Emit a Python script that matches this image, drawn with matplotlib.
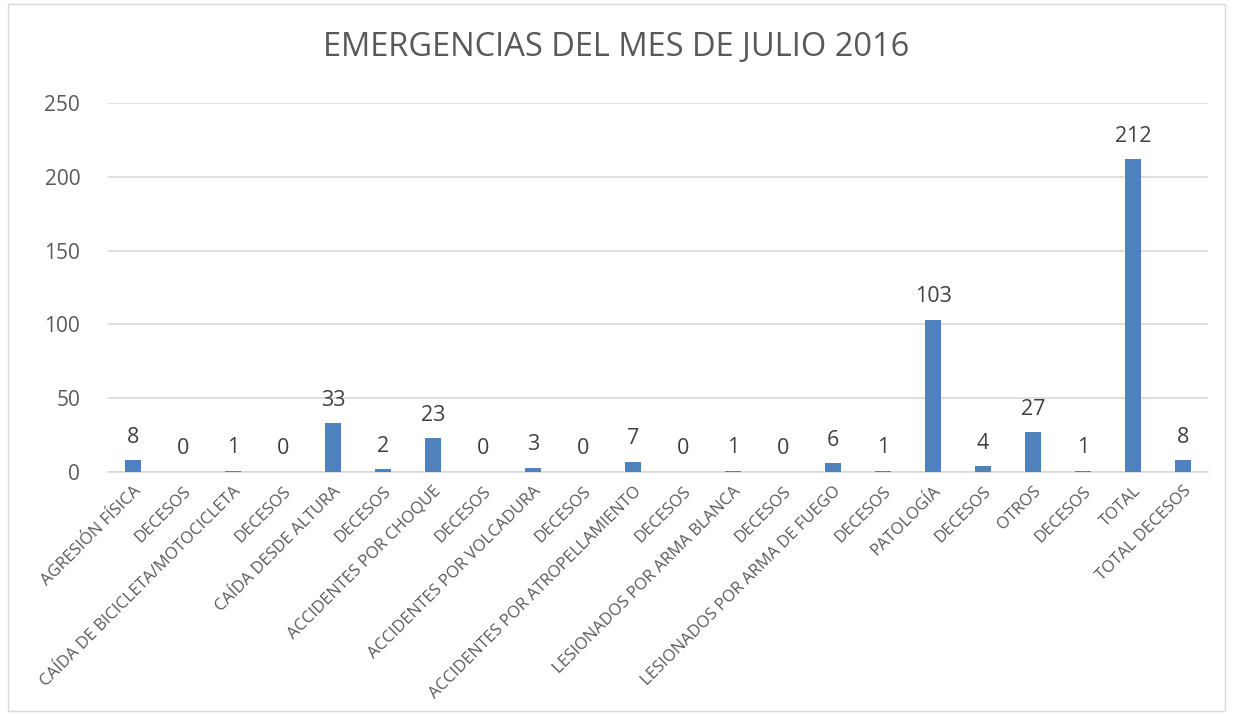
import matplotlib.pyplot as plt
from matplotlib.patches import Rectangle

categorias = [
    "AGRESIÓN FÍSICA", "DECESOS", "CAÍDA DE BICICLETA/MOTOCICLETA", "DECESOS",
    "CAÍDA DESDE ALTURA", "DECESOS", "ACCIDENTES POR CHOQUE", "DECESOS",
    "ACCIDENTES POR VOLCADURA", "DECESOS", "ACCIDENTES POR ATROPELLAMIENTO", "DECESOS",
    "LESIONADOS POR ARMA BLANCA", "DECESOS", "LESIONADOS POR ARMA DE FUEGO", "DECESOS",
    "PATOLOGÍA", "DECESOS", "OTROS", "DECESOS", "TOTAL", "TOTAL DECESOS",
]
valores = [8, 0, 1, 0, 33, 2, 23, 0, 3, 0, 7, 0, 1, 0, 6, 1, 103, 4, 27, 1, 212, 8]
ticks_y = [0, 50, 100, 150, 200, 250]


def main():
    plt.rcParams['font.family'] = ['Open Sans', 'DejaVu Sans']
    gris = '#595959'

    fig = plt.figure(figsize=(12.33, 7.15), dpi=100)
    ax = fig.add_axes([108 / 1233, 1 - 472 / 715, 1100 / 1233, 369 / 715])

    # Borde del área del gráfico
    fig.patches.append(Rectangle((8 / 1233, 0.005), 1 - 16 / 1233, 0.99,
                                 transform=fig.transFigure, fill=False,
                                 edgecolor='#d9d9d9', linewidth=1))

    x = list(range(len(categorias)))
    ax.bar(x, valores, width=0.32, color='#4F81BD', zorder=3)

    for xi, v in zip(x, valores):
        ax.annotate(str(v), (xi, v), xytext=(0, 9), textcoords='offset points',
                    ha='center', va='bottom', fontsize=15.5, color='#404040')

    ax.set_xlim(-0.5, len(categorias) - 0.5)
    ax.set_ylim(0, 250)
    ax.set_yticks(ticks_y)
    ax.yaxis.grid(True, color='#d9d9d9', linewidth=1.2, zorder=0)
    ax.set_axisbelow(True)

    ax.set_xticks(x)
    ax.set_xticklabels(categorias, rotation=45, ha='right', rotation_mode='anchor',
                       fontsize=12, color=gris)
    ax.tick_params(axis='x', length=0, pad=8)
    ax.tick_params(axis='y', length=0, pad=20, labelsize=15, labelcolor=gris)

    for s in ['top', 'right', 'left']:
        ax.spines[s].set_visible(False)
    ax.spines['bottom'].set_color('#d9d9d9')
    ax.spines['bottom'].set_linewidth(1.2)

    fig.text(0.5, 1 - 48 / 715, 'EMERGENCIAS DEL MES DE JULIO 2016', ha='center',
             va='center', fontsize=23.5, color=gris)

    fig.savefig('out.png', dpi=100)


if __name__ == "__main__":
    main()
